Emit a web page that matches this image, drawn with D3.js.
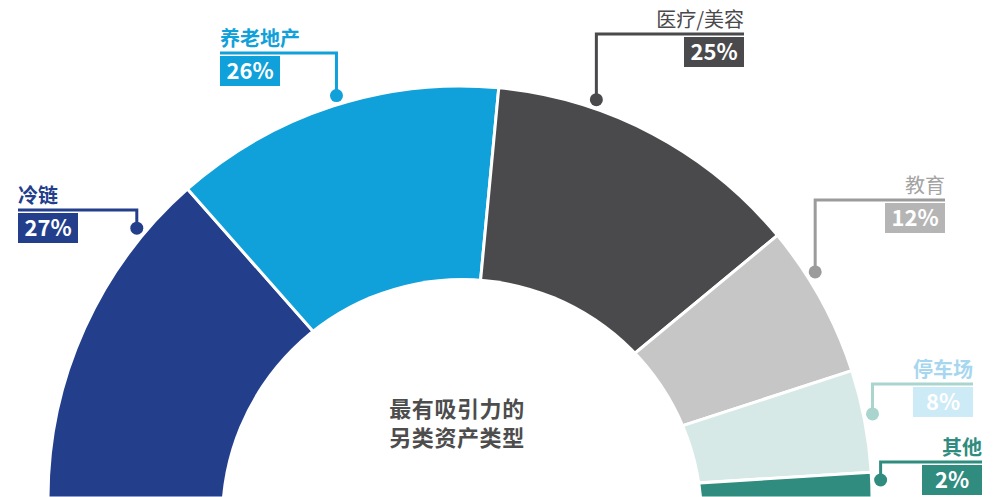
<!DOCTYPE html>
<html>
<head>
<meta charset="utf-8">
<script src="https://cdn.jsdelivr.net/npm/d3@7"></script>
<style>
  html, body { margin: 0; padding: 0; background: #fff; }
  svg { display: block; font-family: "Noto Sans CJK SC", "Noto Sans", sans-serif; }
</style>
</head>
<body>
<div id="Results"><svg width="1000" height="497"></svg></div>
<script>
// data
var categories = ['冷链', '养老地产', '医疗/美容', '教育', '停车场', '其他'];
var shares = [27, 26, 25, 12, 8, 2];
var centerTitle = ['最有吸引力的', '另类资产类型'];

// styles
var sliceColors = ['#233f8c', '#10a0da', '#4a494b', '#c6c6c6', '#d6e9e7', '#2f8c7f'];
var lineColors  = ['#233f8c', '#10a0da', '#4a494b', '#9b9b9b', '#a9d5ce', '#2f8c7f'];
var textColors  = ['#233f8c', '#10a0da', '#4a494b', '#a3a3a3', '#a6d7ef', '#2f8c7f'];
var boxColors   = ['#233f8c', '#10a0da', '#4a494b', '#b5b5b5', '#cdeaf7', '#2f8c7f'];
var textWeights = ['bold', 'bold', 'normal', 'normal', 'bold', 'bold'];

// label layout: where the dot sits inside the slice, y of the leader, far end of leader
var labelLayout = [
  {t: 0.82, lineY: 210, edge: 18,  side: 'left'},
  {t: 0.52, lineY: 53,  edge: 220, side: 'left'},
  {t: 0.30, lineY: 34,  edge: 744, side: 'right'},
  {t: 0.33, lineY: 200, edge: 945, side: 'right'},
  {t: 0.45, lineY: 384, edge: 973, side: 'right'},
  {t: 0.32, lineY: 462, edge: 982, side: 'right'}
];

function init() {
  var svg = d3.select('#Results').select('svg');
  var cx = 460, cy = 498, R = 412;
  var dotR = 421;

  var pie = d3.pie().sort(null)
      .startAngle(-Math.PI / 2)
      .endAngle(Math.PI / 2);
  var arcs = pie(shares);
  var arc = d3.arc().innerRadius(0).outerRadius(R);

  var g = svg.append('g')
      .attr('transform', 'translate(' + cx + ',' + cy + ')');

  g.selectAll('.slice')
    .data(arcs)
    .enter().append('path')
      .attr('class', 'slice')
      .attr('d', arc)
      .attr('fill', function(d, i) { return sliceColors[i]; })
      .attr('stroke', '#fff')
      .attr('stroke-width', 3)
      .attr('stroke-linejoin', 'round');

  // the hole sits a little lower than the pie centre
  g.append('circle')
    .attr('cx', 2)
    .attr('cy', 21)
    .attr('r', 241)
    .attr('fill', '#fff');

  // centre title
  svg.append('g').selectAll('text')
    .data(centerTitle)
    .enter().append('text')
      .attr('x', 457)
      .attr('y', function(d, i) { return 417 + i * 29; })
      .attr('text-anchor', 'middle')
      .attr('font-size', 22)
      .attr('font-weight', 'bold')
      .attr('letter-spacing', 0.6)
      .attr('fill', '#4d4d4d')
      .text(function(d) { return d; });

  // labels with leaders
  var labels = svg.append('g').selectAll('.label')
    .data(arcs)
    .enter().append('g')
      .attr('class', 'label');

  function dotPos(d, i) {
    var a = d.startAngle + labelLayout[i].t * (d.endAngle - d.startAngle);
    return [cx + dotR * Math.sin(a), cy - dotR * Math.cos(a)];
  }

  labels.append('path')
    .attr('d', function(d, i) {
      var p = dotPos(d, i), L = labelLayout[i];
      return 'M' + p[0] + ',' + p[1] + 'V' + L.lineY + 'H' + L.edge;
    })
    .attr('fill', 'none')
    .attr('stroke', function(d, i) { return lineColors[i]; })
    .attr('stroke-width', 3);

  labels.append('circle')
    .attr('cx', function(d, i) { return dotPos(d, i)[0]; })
    .attr('cy', function(d, i) { return dotPos(d, i)[1]; })
    .attr('r', 6.5)
    .attr('fill', function(d, i) { return lineColors[i]; });

  labels.append('text')
    .attr('x', function(d, i) { return labelLayout[i].edge; })
    .attr('y', function(d, i) { return labelLayout[i].lineY - 7; })
    .attr('text-anchor', function(d, i) { return labelLayout[i].side == 'left' ? 'start' : 'end'; })
    .attr('font-size', 20)
    .attr('font-weight', function(d, i) { return textWeights[i]; })
    .attr('fill', function(d, i) { return textColors[i]; })
    .text(function(d, i) { return categories[i]; });

  var boxW = 60, boxH = 30;
  labels.append('rect')
    .attr('x', function(d, i) {
      var L = labelLayout[i];
      return L.side == 'left' ? L.edge : L.edge - boxW;
    })
    .attr('y', function(d, i) { return labelLayout[i].lineY + 3; })
    .attr('width', boxW)
    .attr('height', boxH)
    .attr('fill', function(d, i) { return boxColors[i]; });

  labels.append('text')
    .attr('x', function(d, i) {
      var L = labelLayout[i];
      return (L.side == 'left' ? L.edge : L.edge - boxW) + boxW / 2;
    })
    .attr('y', function(d, i) { return labelLayout[i].lineY + 3 + boxH / 2 + 8; })
    .attr('text-anchor', 'middle')
    .attr('font-size', 22)
    .attr('font-weight', 'bold')
    .attr('fill', '#fff')
    .text(function(d) { return d.data + '%'; });
}

init();
</script>
</body>
</html>
